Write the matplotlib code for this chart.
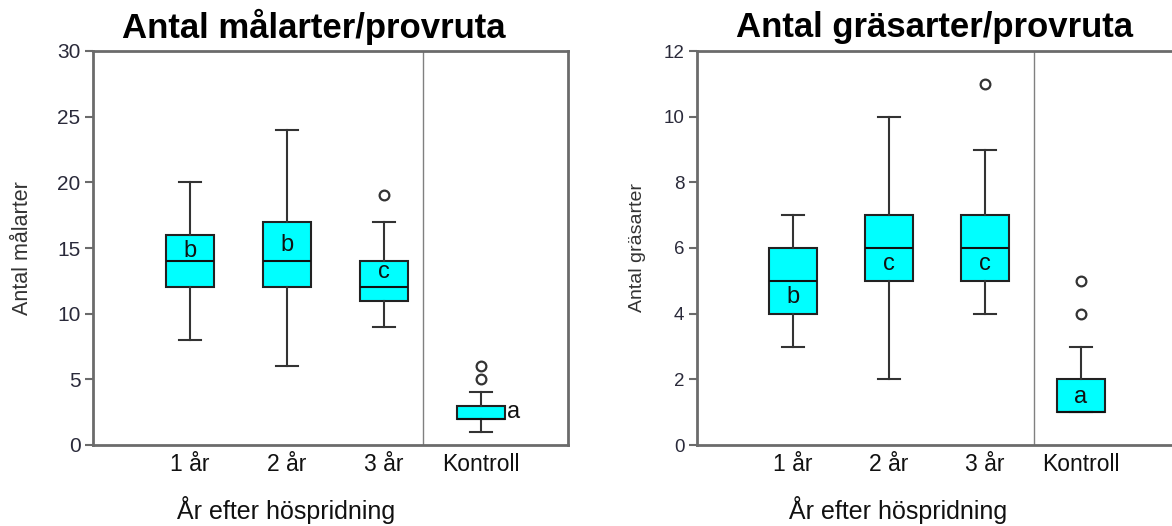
import matplotlib
matplotlib.use("Agg")
import matplotlib.pyplot as plt

plt.rcParams['font.family'] = ['Liberation Sans', 'DejaVu Sans']

categories = ["1 år", "2 år", "3 år", "Kontroll"]

# Left panel: Antal målarter
mal_whislo = [8, 6, 9, 1]
mal_q1 = [12, 12, 11, 2]
mal_med = [14, 14, 12, 2]
mal_q3 = [16, 17, 14, 3]
mal_whishi = [20, 24, 17, 4]
mal_fliers = [[], [], [19], [5, 6]]
mal_letters = ["b", "b", "c", "a"]
mal_letter_y = [14.8, 15.2, 13.2, 2.5]

# Right panel: Antal gräsarter
gras_whislo = [3, 2, 4, 1]
gras_q1 = [4, 5, 5, 1]
gras_med = [5, 6, 6, 1]
gras_q3 = [6, 7, 7, 2]
gras_whishi = [7, 10, 9, 3]
gras_fliers = [[], [], [11], [4, 5]]
gras_letters = ["b", "c", "c", "a"]
gras_letter_y = [4.5, 5.5, 5.5, 1.45]

W, H = 1172, 526
fig = plt.figure(figsize=(W / 100, H / 100), dpi=100)

spine_col = "#6b6b6b"
text_col = "#2a2a3a"


def make_stats(wl, q1, med, q3, wh, fl):
    stats = []
    for i in range(len(wl)):
        stats.append(dict(whislo=wl[i], q1=q1[i], med=med[i], q3=q3[i],
                          whishi=wh[i], fliers=fl[i], label=categories[i]))
    return stats


def panel(rect, stats, yticks, ylim, xlim, divider, ylabel, ylabel_size,
          ytick_size, ylabel_x, xlabel_x, title, title_x, letters, letter_y,
          letter_dx):
    ax = fig.add_axes(rect)
    positions = [1, 2, 3, 4]
    ax.bxp(stats, positions=positions, widths=0.5, patch_artist=True,
           showfliers=True, capwidths=0.23,
           boxprops=dict(facecolor="#00ffff", edgecolor="#222222", linewidth=1.5),
           medianprops=dict(color="#111111", linewidth=1.5),
           whiskerprops=dict(color="#333333", linewidth=1.5),
           capprops=dict(color="#333333", linewidth=1.5),
           flierprops=dict(marker="o", markerfacecolor="white",
                           markeredgecolor="#333333", markersize=7,
                           markeredgewidth=1.6))
    ax.set_xlim(*xlim)
    ax.set_ylim(*ylim)
    ax.set_yticks(yticks)
    ax.set_xticks(positions)
    ax.set_xticklabels(categories, fontsize=16.5, color="#111111")
    ax.tick_params(axis="x", length=0, pad=6)
    ax.tick_params(axis="y", length=6, width=1.5, color=spine_col,
                   labelsize=ytick_size, labelcolor=text_col, pad=3)
    for s in ax.spines.values():
        s.set_color(spine_col)
        s.set_linewidth(2)
    ax.axvline(divider, color="#808080", linewidth=1)
    ax.set_ylabel(ylabel, fontsize=ylabel_size, color="#333333",
                  va="center", ha="center")
    ax.yaxis.set_label_coords(ylabel_x, 0.5)
    ax.set_xlabel("År efter höspridning", fontsize=18, color="#111111",
                  va="center")
    ax.xaxis.set_label_coords(xlabel_x, -0.165)
    for i, (lt, ly) in enumerate(zip(letters, letter_y)):
        ax.text(positions[i] + letter_dx[i], ly, lt, ha="center", va="center",
                fontsize=17, color="#111111")
    fig.text(title_x, 1 - 27 / H, title, ha="center", va="center",
             fontsize=25, fontweight="bold", color="black")
    return ax


ax1 = panel([93 / W, 1 - 445 / H, 475 / W, 394 / H],
            make_stats(mal_whislo, mal_q1, mal_med, mal_q3, mal_whishi, mal_fliers),
            [0, 5, 10, 15, 20, 25, 30], (0, 30), (0, 4.9), 3.4,
            "Antal målarter", 15.5, 15, -0.149, (286 - 93) / 475,
            "Antal målarter/provruta", 314 / W,
            mal_letters, mal_letter_y, [0, 0, 0, 0.34])

ax2 = panel([697 / W, 1 - 445 / H, 480 / W, 394 / H],
            make_stats(gras_whislo, gras_q1, gras_med, gras_q3, gras_whishi, gras_fliers),
            [0, 2, 4, 6, 8, 10, 12], (0, 12), (0, 5.0), 3.51,
            "Antal gräsarter", 14, 13.5, -0.125, (898 - 697) / 480,
            "Antal gräsarter/provruta", 935 / W,
            gras_letters, gras_letter_y, [0, 0, 0, 0])

fig.savefig("out.png", dpi=100)
